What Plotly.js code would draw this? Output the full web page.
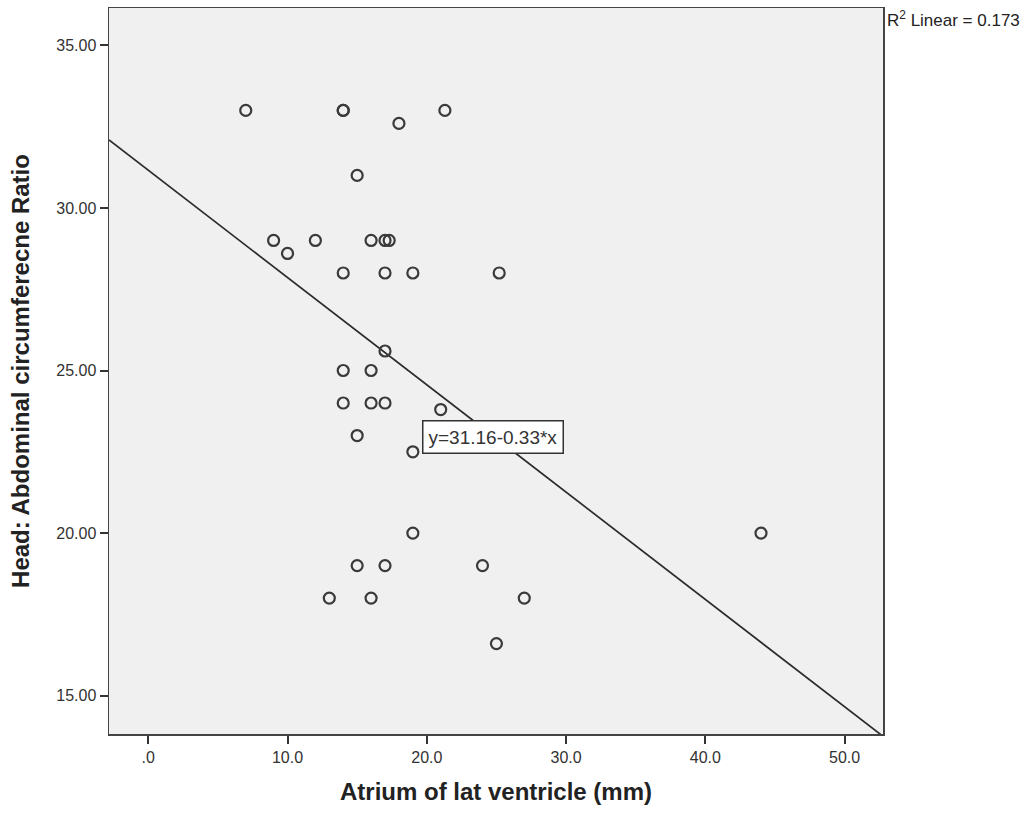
<!DOCTYPE html>
<html>
<head>
<meta charset="utf-8">
<script src="https://cdn.plot.ly/plotly-3.0.1.min.js"></script>
<style>html,body{margin:0;padding:0;background:#fff;}#chart{width:1033px;height:815px;}</style>
</head>
<body>
<div id="chart"></div>
<script>
// Data
const atrium = [7, 14, 14, 18, 21.3, 15, 9, 10, 12, 16, 17, 17.3, 14, 17, 19, 25.2, 17, 14, 16, 14, 16, 17, 21, 15, 19, 19, 44, 15, 17, 24, 13, 16, 27, 25];
const hcAcRatio = [33, 33, 33, 32.6, 33, 31, 29, 28.6, 29, 29, 29, 29, 28, 28, 28, 28, 25.6, 25, 25, 24, 24, 24, 23.8, 23, 22.5, 20, 20, 19, 19, 19, 18, 18, 18, 16.6];
const fitIntercept = 31.16;
const fitSlope = -0.33;
const fitLabel = "y=31.16-0.33*x";
const r2Label = "R<sup>2</sup> Linear = 0.173";
const xTickVals = [0, 10, 20, 30, 40, 50];
const xTickText = [".0", "10.0", "20.0", "30.0", "40.0", "50.0"];
const yTickVals = [15, 20, 25, 30, 35];
const yTickText = ["15.00", "20.00", "25.00", "30.00", "35.00"];
const xRange = [-2.82, 52.76];
const yRange = [13.82, 36.15];

const lineX = [xRange[0], xRange[1]];
const lineY = lineX.map(v => fitIntercept + fitSlope * v);

const font = "Liberation Sans, Arial, sans-serif";

const traces = [
  {
    x: lineX, y: lineY, mode: "lines", type: "scatter",
    line: {color: "#2b2b2b", width: 1.7},
    hoverinfo: "skip", showlegend: false
  },
  {
    x: atrium, y: hcAcRatio, mode: "markers", type: "scatter",
    marker: {symbol: "circle-open", size: 11, color: "#3a3a3a", line: {width: 2.2, color: "#3a3a3a"}},
    showlegend: false
  }
];

const layout = {
  width: 1033, height: 815,
  margin: {l: 109, r: 150, t: 8, b: 81},
  paper_bgcolor: "#ffffff",
  plot_bgcolor: "#f0f0f0",
  showlegend: false,
  font: {family: font, color: "#333333", size: 16},
  xaxis: {
    range: xRange, showgrid: false, zeroline: false,
    tickvals: xTickVals, ticktext: xTickText,
    ticks: "outside", ticklen: 8, tickwidth: 2, tickcolor: "#333",
    showline: true, linecolor: "#444", linewidth: 1.5, mirror: true,
    tickfont: {family: font, size: 16, color: "#333"},
    title: {text: "Atrium of lat ventricle (mm)", font: {family: font, size: 24, color: "#222", weight: "bold"}, standoff: 18}
  },
  yaxis: {
    range: yRange, showgrid: false, zeroline: false,
    tickvals: yTickVals, ticktext: yTickText,
    ticks: "outside", ticklen: 8, tickwidth: 2, tickcolor: "#333",
    showline: true, linecolor: "#444", linewidth: 1.5, mirror: true,
    tickfont: {family: font, size: 16, color: "#333"},
    title: {text: "Head: Abdominal circumferecne Ratio", font: {family: font, size: 24, color: "#222", weight: "bold"}, standoff: 20}
  },
  annotations: [
    {
      x: 24.76, y: 22.96, xref: "x", yref: "y",
      text: fitLabel, showarrow: false,
      font: {family: font, size: 19, color: "#333"},
      bgcolor: "#ffffff", bordercolor: "#333", borderwidth: 1.5, borderpad: 5
    },
    {
      x: 1.002, y: 1.003, xref: "paper", yref: "paper",
      xanchor: "left", yanchor: "top",
      text: r2Label, showarrow: false,
      font: {family: font, size: 17, color: "#222"}
    }
  ]
};

Plotly.newPlot("chart", traces, layout, {displayModeBar: false, staticPlot: true});
</script>
</body>
</html>
